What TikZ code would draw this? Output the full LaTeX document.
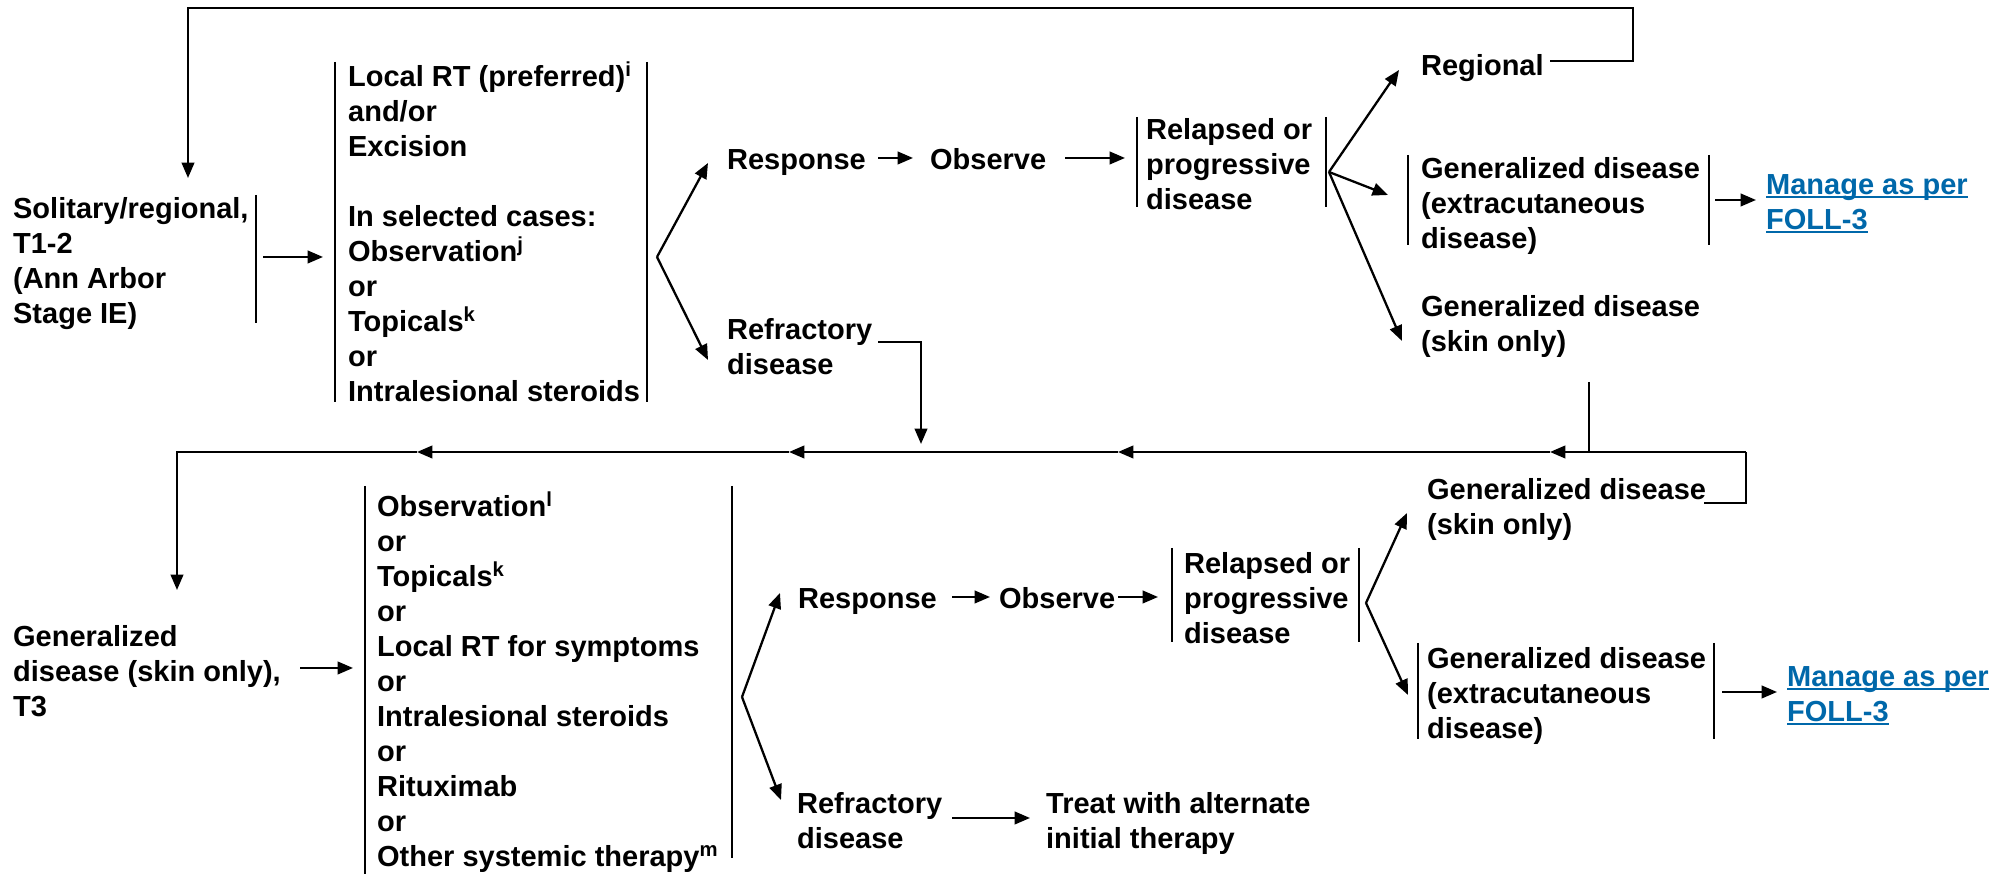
\documentclass[tikz,border=0pt]{standalone}
\usepackage{fontspec}
\setmainfont{Liberation Sans}
\usetikzlibrary{arrows.meta}
\definecolor{linkblue}{RGB}{0,104,170}
\newcommand\fl{\rule{0pt}{7.85pt}}
\newsavebox\lnkbox
\newcommand\lnk[1]{\sbox\lnkbox{#1}\rlap{\rule[-1.1pt]{\wd\lnkbox}{0.55pt}}\usebox\lnkbox}
\begin{document}
\begin{tikzpicture}[x=0.01cm,y=-0.01cm,line width=0.65pt,
  txt/.style={font=\bfseries\fontsize{8.25pt}{9.96pt}\selectfont,align=left,inner sep=0pt,anchor=north west},
  lnktxt/.style={txt,text=linkblue},
  arr/.style={-{Triangle[length=4.4pt,width=3.6pt]}}]
\useasboundingbox (0,0) rectangle (2011,874);

% ---------------- upper row ----------------
\node[txt] (sol) at (12,207-17.5) {\fl Solitary/regional,\\T1-2\\(Ann Arbor\\Stage IE)};
\draw (256,195) -- (256,323);
\coordinate (solO) at (263,257);
\coordinate (b2I) at (323,257);
\draw[arr] (solO) -- (b2I);

\node[txt] (b2) at (347,75-17.5) {\fl Local RT (preferred)\textsuperscript{i}\\and/or\\Excision\\[9.96pt]In selected cases:\\Observation\textsuperscript{j}\\or\\Topicals\textsuperscript{k}\\or\\Intralesional steroids};
\draw (335,62) -- (335,402);
\draw (647,62) -- (647,402);

\coordinate (br1) at (657,257);
\coordinate (resp1I) at (708,163);
\coordinate (ref1I) at (708,360);
\node[txt] (resp1) at (726,158-17.5) {\fl Response};
\node[txt] (ref1) at (726,328-17.5) {\fl Refractory\\disease};
\draw[arr] (br1) -- (resp1I);
\draw[arr] (br1) -- (ref1I);

\node[txt] (obs1) at (929,158-17.5) {\fl Observe};
\coordinate (r1o) at (878,158); \coordinate (o1i) at (913,158);
\draw[arr] (r1o) -- (o1i);
\coordinate (o1o) at (1065,158); \coordinate (rel1I) at (1125,158);
\draw[arr] (o1o) -- (rel1I);

\node[txt] (rel1) at (1145,128-17.5) {\fl Relapsed or\\progressive\\disease};
\draw (1137,117) -- (1137,207);
\draw (1326,117) -- (1326,207);

\coordinate (br2) at (1329,172);
\coordinate (regI) at (1399,70);
\coordinate (ge1I) at (1388,195);
\coordinate (gs1I) at (1402,341);
\draw[arr] (br2) -- (regI);
\draw[arr] (br2) -- (ge1I);
\draw[arr] (br2) -- (gs1I);

\node[txt] (reg) at (1420,64-17.5) {\fl Regional};
\node[txt] (ge1) at (1420,167-17.5) {\fl Generalized disease\\(extracutaneous\\disease)};
\draw (1408,155) -- (1408,245);
\draw (1709,155) -- (1709,245);
\node[lnktxt] (man1) at (1765,183-17.5) {\fl\lnk{Manage as per}\\\lnk{FOLL-3}};
\coordinate (ge1o) at (1715,200); \coordinate (man1I) at (1756,200);
\draw[arr] (ge1o) -- (man1I);
\node[txt] (gs1) at (1420,305-17.5) {\fl Generalized disease\\(skin only)};

% loop from Regional back to start
\coordinate (rego) at (1550,61);
\coordinate (lt1) at (1633,61);
\coordinate (lt2) at (1633,8);
\coordinate (lt3) at (188,8);
\coordinate (solI) at (188,178);
\draw[arr] (rego) -- (lt1) -- (lt2) -- (lt3) -- (solI);

% refractory (upper) down to the return line
\coordinate (ref1o) at (878,342);
\coordinate (ref1c) at (921,342);
\coordinate (ref1d) at (921,444);
\draw[arr] (ref1o) -- (ref1c) -- (ref1d);

% generalized skin only (upper) down to return line
\coordinate (gs1o) at (1589,382);
\coordinate (gs1d) at (1589,452);
\draw (gs1o) -- (gs1d);

% ---------------- lower row ----------------
\node[txt] (gs2) at (1426,488-17.5) {\fl Generalized disease\\(skin only)};
\coordinate (gs2o) at (1704,503);
\coordinate (lpC) at (1746,503);
\coordinate (lpR) at (1746,452);
\coordinate (h1) at (1550,452);
\coordinate (h2) at (1118,452);
\coordinate (h3) at (789,452);
\coordinate (h4) at (417,452);
\coordinate (lpL) at (177,452);
\coordinate (gen3I) at (177,590);
\draw (gs2o) -- (lpC) -- (lpR);
\draw[arr] (lpR) -- (h1);
\draw[arr] (h1) -- (h2);
\draw[arr] (h2) -- (h3);
\draw[arr] (h3) -- (h4);
\draw[arr] (h4) -- (lpL) -- (gen3I);

\node[txt] (gen3) at (12,635-17.5) {\fl Generalized\\disease (skin only),\\T3};
\coordinate (gen3o) at (300,668); \coordinate (b3I) at (353,668);
\draw[arr] (gen3o) -- (b3I);

\node[txt] (b3) at (376,505-17.5) {\fl Observation\textsuperscript{l}\\or\\Topicals\textsuperscript{k}\\or\\Local RT for symptoms\\or\\Intralesional steroids\\or\\Rituximab\\or\\Other systemic therapy\textsuperscript{m}};
\draw (365,486) -- (365,874);
\draw (732,486) -- (732,858);

\coordinate (br3) at (742,697);
\coordinate (resp2I) at (780,593);
\coordinate (ref2I) at (781,800);
\draw[arr] (br3) -- (resp2I);
\draw[arr] (br3) -- (ref2I);

\node[txt] (resp2) at (797,597-17.5) {\fl Response};
\node[txt] (obs2) at (998,597-17.5) {\fl Observe};
\coordinate (r2o) at (952,597); \coordinate (o2i) at (990,597);
\draw[arr] (r2o) -- (o2i);
\coordinate (o2o) at (1118,597); \coordinate (rel2I) at (1158,597);
\draw[arr] (o2o) -- (rel2I);

\node[txt] (rel2) at (1183,562-17.5) {\fl Relapsed or\\progressive\\disease};
\draw (1172,548) -- (1172,642);
\draw (1359,548) -- (1359,642);

\coordinate (br4) at (1366,603);
\coordinate (gs2I) at (1407,513);
\coordinate (ge2I) at (1408,695);
\draw[arr] (br4) -- (gs2I);
\draw[arr] (br4) -- (ge2I);

\node[txt] (ge2) at (1426,657-17.5) {\fl Generalized disease\\(extracutaneous\\disease)};
\draw (1418,643) -- (1418,739);
\draw (1714,643) -- (1714,739);
\node[lnktxt] (man2) at (1786,675-17.5) {\fl\lnk{Manage as per}\\\lnk{FOLL-3}};
\coordinate (ge2o) at (1722,692); \coordinate (man2I) at (1777,692);
\draw[arr] (ge2o) -- (man2I);

\node[txt] (ref2) at (796,802-17.5) {\fl Refractory\\disease};
\node[txt] (treat) at (1045,802-17.5) {\fl Treat with alternate\\initial therapy};
\coordinate (ref2o) at (952,818); \coordinate (treatI) at (1030,818);
\draw[arr] (ref2o) -- (treatI);
\end{tikzpicture}
\end{document}
